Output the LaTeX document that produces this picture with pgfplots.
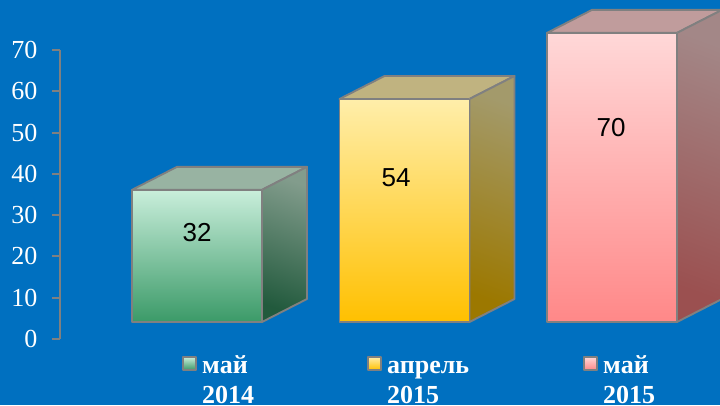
\documentclass[border=0pt]{standalone}
\usepackage{fontspec}
\setmainfont{Liberation Serif}
\newfontfamily\arial{Liberation Sans}
\usepackage{pgfplots}
\pgfplotsset{compat=1.18}
\definecolor{bg}{HTML}{0070C0}
\definecolor{edge}{HTML}{808080}
\definecolor{ta}{HTML}{98B3A2}\definecolor{fa}{HTML}{C9EEDB}\definecolor{ga}{HTML}{3B9A68}\definecolor{ra}{HTML}{829C8C}\definecolor{sa}{HTML}{225A3D}
\definecolor{tb}{HTML}{C0B380}\definecolor{fb}{HTML}{FFEEAA}\definecolor{gb}{HTML}{FFC000}\definecolor{rb}{HTML}{A39A6B}\definecolor{sb}{HTML}{9C7800}
\definecolor{tc}{HTML}{C09C9C}\definecolor{fc}{HTML}{FFD8D8}\definecolor{gc}{HTML}{FF8888}\definecolor{rc}{HTML}{A38787}\definecolor{sc}{HTML}{9B5050}
\pgfplotsset{
  full/.style={at={(0,0)},anchor=south west,scale only axis,width=720pt,height=405pt,xmin=0,xmax=720,axis lines=none},
}
\tikzset{
  face/.style={draw=edge,line width=1.9pt,line join=round},
  swatch/.style={draw=edge,line width=2.6pt,line join=round},
  lab/.style={font=\fontsize{26}{26}\selectfont\bfseries,text=white,anchor=base west,inner sep=0pt},
  val/.style={font=\arial\fontsize{26}{26}\selectfont,text=black,anchor=center,inner sep=0pt},
}
\begin{document}
\begin{tikzpicture}
\clip (0,0) rectangle (720pt,405pt);
% background, legend swatches and category labels (pixel axis)
\begin{axis}[full,ymin=0,ymax=405,clip=false]
\addplot[draw=none,fill=bg] coordinates {(0,0)(720,0)(720,405)(0,405)} -- cycle;
\addplot[swatch,top color=fa,bottom color=ga] coordinates {(183,35)(196,35)(196,48)(183,48)} -- cycle;
\addplot[swatch,top color=fb,bottom color=gb] coordinates {(368,35)(381,35)(381,48)(368,48)} -- cycle;
\addplot[swatch,top color=fc,bottom color=gc] coordinates {(584,35)(597,35)(597,48)(584,48)} -- cycle;
\node[lab] at (axis cs:202,32) {май};
\node[lab] at (axis cs:202,1.5) {2014};
\node[lab] at (axis cs:387,32) {апрель};
\node[lab] at (axis cs:387,1.5) {2015};
\node[lab] at (axis cs:603,32) {май};
\node[lab] at (axis cs:603,1.5) {2015};
\end{axis}
% value axis
\begin{axis}[at={(60pt,66pt)},anchor=south west,scale only axis,width=600pt,height=289pt,
  xmin=0,xmax=1,ymin=0,ymax=70,axis y line=left,axis x line=none,
  ytick={0,10,20,30,40,50,60,70},
  tick align=outside,major tick length=8pt,
  y axis line style={draw=edge,line width=1.9pt,-},
  ytick style={draw=edge,line width=1.9pt},
  tick label style={font=\fontsize{26}{26}\selectfont,text=white,/pgf/number format/assume math mode=true},
  yticklabel style={xshift=-11pt}]
\addplot[draw=none] coordinates {(0,0)(1,70)};
\end{axis}
% bars: y is in value units, with 0 at the foot of the front faces
\begin{axis}[full,ymin=-20.097,ymax=77.966,clip=true]
\addplot[face,fill=ta] coordinates {(132,32)(177,37.57)(307,37.57)(262,32)} -- cycle;
\addplot[face,top color=ra,bottom color=sa,shading angle=-20] coordinates {(262,0)(307,5.57)(307,37.57)(262,32)} -- cycle;
\addplot[face,ybar,bar shift=0pt,bar width=130,top color=fa,bottom color=ga] coordinates {(197,32)};
\addplot[face,fill=tb] coordinates {(339.5,54)(384.5,59.57)(514.5,59.57)(469.5,54)} -- cycle;
\addplot[face,top color=rb,bottom color=sb,shading angle=-20] coordinates {(469.5,0)(514.5,5.57)(514.5,59.57)(469.5,54)} -- cycle;
\addplot[face,ybar,bar shift=0pt,bar width=130,top color=fb,bottom color=gb] coordinates {(404.5,54)};
\addplot[face,fill=tc] coordinates {(547,70)(592,75.57)(722,75.57)(677,70)} -- cycle;
\addplot[face,top color=rc,bottom color=sc,shading angle=-20] coordinates {(677,0)(722,5.57)(722,75.57)(677,70)} -- cycle;
\addplot[face,ybar,bar shift=0pt,bar width=130,top color=fc,bottom color=gc] coordinates {(612,70)};
\node[val] at (axis cs:197,21.6) {32};
\node[val] at (axis cs:396,34.9) {54};
\node[val] at (axis cs:611,47.0) {70};
\end{axis}
\end{tikzpicture}
\end{document}
